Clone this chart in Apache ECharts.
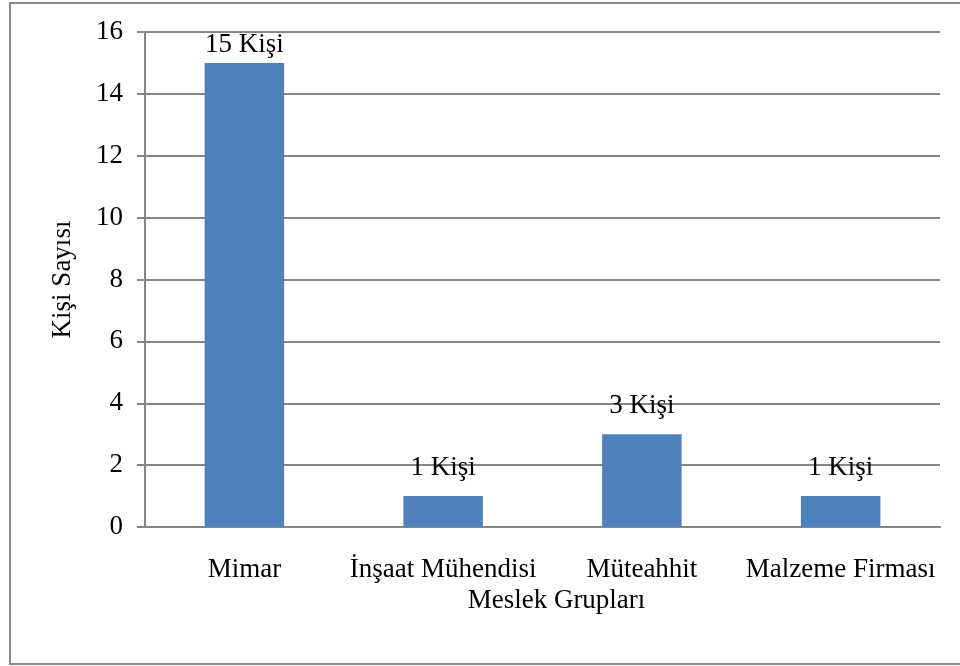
<!DOCTYPE html>
<html>
<head>
<meta charset="utf-8">
<script src="https://cdn.jsdelivr.net/npm/echarts@6/dist/echarts.min.js"></script>
<style>
  html, body { margin: 0; padding: 0; background: #ffffff; }
  #chart { width: 960px; height: 666px; }
</style>
</head>
<body>
<div id="chart"></div>
<script>
// Occupational groups and head counts
const categories = ['Mimar', 'İnşaat Mühendisi', 'Müteahhit', 'Malzeme Firması'];
const counts = [15, 1, 3, 1];
const yTicks = { min: 0, max: 16, interval: 2 };

const FONT = '"Liberation Serif", "Times New Roman", serif';
const FS = 27;
const chart = echarts.init(document.getElementById('chart'), null, { renderer: 'canvas' });

// Value labels sit well above their bars, except where that would push
// them past the top of the plot; there they are tucked in closer.
const barData = counts.map(v => ({
  value: v,
  label: { distance: v > yTicks.max - 1.5 ? 5 : 15 }
}));

chart.setOption({
  backgroundColor: '#ffffff',
  animation: false,
  graphic: [{
    type: 'rect',
    shape: { x: 10, y: 3, width: 960, height: 661 },
    style: { fill: 'none', stroke: '#8a8a8a', lineWidth: 2 },
    silent: true
  }],
  grid: { left: 145, top: 32, right: 20, bottom: 139, containLabel: false },
  xAxis: {
    type: 'category',
    data: categories,
    name: 'Meslek Grupları',
    nameLocation: 'middle',
    nameGap: 58,
    nameTextStyle: { fontFamily: FONT, fontSize: FS, color: '#000', padding: [0, 0, 0, 28] },
    axisLine: { show: true, lineStyle: { color: '#868686', width: 2 } },
    axisTick: { show: false },
    axisLabel: { fontFamily: FONT, fontSize: FS, color: '#000', margin: 29, interval: 0 }
  },
  yAxis: {
    type: 'value',
    min: yTicks.min,
    max: yTicks.max,
    interval: yTicks.interval,
    name: 'Kişi Sayısı',
    nameLocation: 'middle',
    nameGap: 69,
    nameTextStyle: { fontFamily: FONT, fontSize: FS, color: '#000' },
    axisLine: { show: true, lineStyle: { color: '#868686', width: 2 } },
    axisTick: { show: true, inside: false, length: 8, lineStyle: { color: '#868686', width: 2 } },
    axisLabel: { fontFamily: FONT, fontSize: FS, color: '#000', margin: 22 },
    splitLine: { show: true, lineStyle: { color: '#868686', width: 2 } }
  },
  series: [{
    type: 'bar',
    data: barData,
    barWidth: '40%',
    itemStyle: { color: '#4f81bd' },
    label: {
      show: true,
      position: 'top',
      distance: 15,
      fontFamily: FONT,
      fontSize: FS,
      color: '#000',
      formatter: p => p.value + ' Kişi'
    }
  }]
});
</script>
</body>
</html>
